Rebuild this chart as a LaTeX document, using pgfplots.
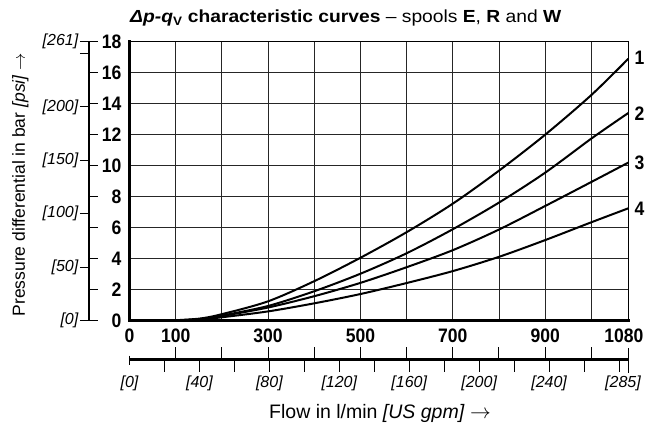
\documentclass[border=0pt]{standalone}
\usepackage{pgfplots}
\pgfplotsset{compat=1.18}
\usepackage{pgfplotstable}
\usepackage{fontspec}
\setmainfont{Liberation Sans}
\newfontfamily\numfam[FakeStretch=0.9]{Liberation Sans}
\newfontfamily\titlefam[FakeStretch=1.1]{Liberation Sans}

% pressure drop in bar over flow in l/min, one table per curve
\pgfplotstableread{
q p
80 0
150 0.13
200 0.42
300 1.25
400 2.55
500 4.06
600 5.71
700 7.55
800 9.68
900 12.00
1000 14.56
1080 16.90
}\curveA
\pgfplotstableread{
q p
80 0
150 0.10
200 0.33
300 0.95
400 1.90
500 3.03
600 4.35
700 5.90
800 7.62
900 9.55
1000 11.75
1080 13.40
}\curveB
\pgfplotstableread{
q p
80 0
150 0.08
200 0.30
300 0.85
400 1.58
500 2.44
600 3.45
700 4.55
800 5.88
900 7.40
1000 8.95
1080 10.20
}\curveC
\pgfplotstableread{
q p
80 0
150 0.06
200 0.22
300 0.60
400 1.12
500 1.72
600 2.43
700 3.20
800 4.12
900 5.20
1000 6.35
1080 7.25
}\curveD

\newcommand{\numfont}{\numfam\bfseries\fontsize{19.5}{19.5}\selectfont}
\newcommand{\txtfont}{\fontsize{16}{16}\selectfont}

\begin{document}
\begin{tikzpicture}
\path[use as bounding box] (-129.5pt,-106.3pt) rectangle (515.5pt,320.7pt);
\begin{axis}[
    at={(0,0)}, anchor=south west,
    scale only axis,
    width=498.8pt, height=279pt,
    xmin=0, xmax=1080, ymin=0, ymax=18,
    xtick={0,100,...,1000,1080},
    xticklabels={0,100,{},300,{},500,{},700,{},900,{},{\hspace*{-9pt}1080}},
    ytick={0,2,...,18},
    grid=major,
    major grid style={black!85, line width=0.9pt},
    major tick length=0pt,
    axis line style={line width=1.4pt},
    tick label style={font=\numfont, inner sep=0pt},
    xticklabel style={yshift=-7.6pt},
    yticklabel style={xshift=-7.8pt},
    /pgf/number format/assume math mode=true,
    clip=false,
]
\addplot[smooth, line width=2pt] table[x=q, y=p] {\curveA};
\addplot[smooth, line width=2pt] table[x=q, y=p] {\curveB};
\addplot[smooth, line width=2pt] table[x=q, y=p] {\curveC};
\addplot[smooth, line width=2pt] table[x=q, y=p] {\curveD};
\end{axis}

% heavy left and bottom frame
\draw[line width=2.8pt, line cap=rect] (0,279pt) -- (0,0) -- (498.8pt,0);

% psi scale
\draw[line width=2.5pt] (-40.5pt,0) -- (-40.5pt,279pt);
\foreach \b in {0,2,...,18}
  \draw[line width=1pt] (-40.5pt,{\b*15.5pt}) -- (-31.5pt,{\b*15.5pt});
\foreach \p in {0,50,...,250}
  \draw[line width=1pt] (-49.5pt,{\p*1.068685pt}) -- (-40.5pt,{\p*1.068685pt});
\draw[line width=1pt] (-49.5pt,279pt) -- (-40.5pt,279pt);
\foreach \p in {0,50,100,150,200}
  \node[anchor=east, inner sep=0, font=\txtfont\itshape] at (-51pt,{\p*1.068685pt}) {[\p]};
\node[anchor=east, inner sep=0, font=\txtfont\itshape] at (-51pt,279pt) {[261]};

% US gpm scale
\draw[line width=3pt] (0,-39.3pt) -- (498.8pt,-39.3pt);
\foreach \q in {100,200,...,1000}
  \draw[line width=1pt] ({\q*0.461852pt},-39.3pt) -- ++(0,13pt);
\foreach \g in {20,40,...,280}
  \draw[line width=1pt] ({\g*1.74832pt},-39.3pt) -- ++(0,-12.5pt);
\draw[line width=1pt] (0,-35pt) -- (0,-44pt);
\draw[line width=1pt] (498.8pt,-27.5pt) -- (498.8pt,-52.6pt);
\foreach \g in {0,40,...,240}
  \node[font=\txtfont\itshape] at ({\g*1.74832pt},-62.3pt) {[\g]};
\node[font=\txtfont\itshape] at (493.5pt,-62.3pt) {[285]};

% curve numbers
\node[anchor=west, inner sep=0, font=\numfont] at (505pt,262.4pt) {1};
\node[anchor=west, inner sep=0, font=\numfont] at (505pt,207.4pt) {2};
\node[anchor=west, inner sep=0, font=\numfont] at (505pt,157.4pt) {3};
\node[anchor=west, inner sep=0, font=\numfont] at (505pt,112.4pt) {4};

% titles
\node[anchor=base west, inner sep=0, font=\titlefam\fontsize{17.5}{17.5}\selectfont] at (0.5pt,298pt)
  {\textbf{\textit{Δp-q}\textsubscript{V} characteristic curves} – spools \textbf{E}, \textbf{R} and \textbf{W}};
\node[rotate=90, anchor=base, inner sep=0, font=\fontsize{17.5}{17.5}\selectfont] at (-104.5pt,136pt)
  {Pressure differential in bar \textit{[psi]} $\rightarrow$};
\node[anchor=base, inner sep=0, font=\fontsize{19.5}{19.5}\selectfont] at (250.5pt,-97.6pt)
  {Flow in l/min \textit{[US gpm]} $\rightarrow$};
\end{tikzpicture}
\end{document}
